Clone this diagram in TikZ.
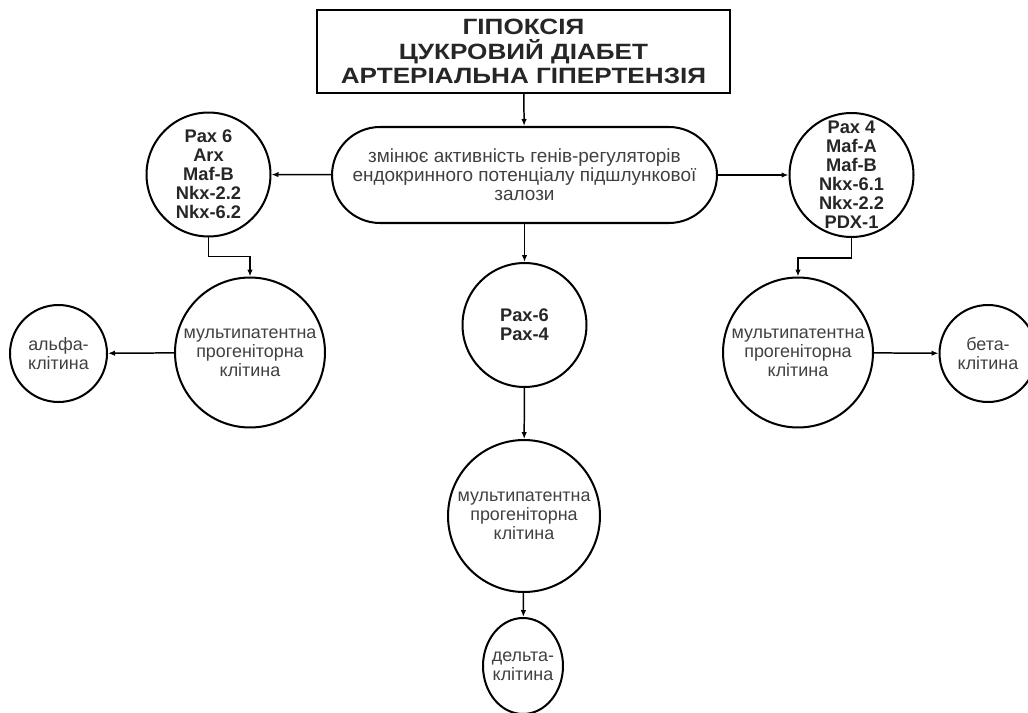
\documentclass[tikz,border=0pt]{standalone}
\usepackage{fontspec}
\setmainfont{Liberation Sans}
\newfontfamily\headfont{Liberation Sans}[FakeStretch=1.18]
\usetikzlibrary{arrows.meta,shapes.geometric}

\begin{document}
\begin{tikzpicture}[x=0.02cm,y=-0.02cm,>={Latex[length=1.4mm,width=1.1mm]},
  line width=0.85pt,
  txt/.style={font=\fontsize{10.2}{10.9}\selectfont,text=black!75,align=center},
  gene/.style={circle,draw,line width=1.15pt,inner sep=-8pt,minimum size=2.48cm,
    font=\fontsize{10.4}{10.8}\selectfont\bfseries,text=black!85,align=center},
  prog/.style={circle,draw,line width=1.15pt,inner sep=0pt,minimum size=3.0cm,txt},
  cell/.style={circle,draw,line width=1.15pt,inner sep=0pt,minimum size=1.94cm,txt}]
\useasboundingbox (0,0) rectangle (1028,713);
\node[draw,line width=1.15pt,minimum width=8.26cm,minimum height=1.66cm,align=center,
  font=\headfont\fontsize{12.6}{14.1}\selectfont\bfseries,text=black!85] (causes) at (523.5,51.5)
  {ГІПОКСІЯ\\ЦУКРОВИЙ ДІАБЕТ\\АРТЕРІАЛЬНА ГІПЕРТЕНЗІЯ};
\node[draw,line width=1.15pt,rounded corners=0.96cm,minimum width=7.7cm,minimum height=1.92cm,txt,
  font=\fontsize{10.8}{10.9}\selectfont] (effect) at (524.5,175)
  {змінює активність генів-регуляторів\\ендокринного потенціалу підшлункової\\залози};
\node[gene] (geneA) at (208.5,174.5) {Pax 6\\Arx\\Maf-B\\Nkx-2.2\\Nkx-6.2};
\node[gene] (geneB) at (851.5,175) {Pax 4\\Maf-A\\Maf-B\\Nkx-6.1\\Nkx-2.2\\PDX-1};
\node[gene] (geneD) at (524.5,325) {Pax-6\\Pax-4};
\node[prog] (progA) at (250,352.5) {мультипатентна\\прогеніторна\\клітина};
\node[prog] (progB) at (798,352.5) {мультипатентна\\прогеніторна\\клітина};
\node[prog,minimum size=3.04cm] (progD) at (524,516) {мультипатентна\\прогеніторна\\клітина};
\node[cell] (alpha) at (58.5,353.5) {альфа-\\клітина};
\node[cell] (beta) at (988,353.5) {бета-\\клітина};
\node[ellipse,draw,line width=1.15pt,inner xsep=-3pt,inner ysep=0pt,minimum width=1.6cm,
  minimum height=1.92cm,txt] (delta) at (523,666) {дельта-\\клітина};
\draw[->] (causes) -- (effect);
\draw[->] (effect) -- (geneA);
\draw[->] (effect) -- (geneB);
\draw[->] (effect) -- (geneD);
\draw[->] (geneA.south) -- ++(0,19) -| (progA.north);
\draw[->] (geneB.south) -- ++(0,20) -| (progB.north);
\draw[->] (geneD) -- (progD);
\draw[->] (progD) -- (delta);
\draw[->] (progA) -- (alpha);
\draw[->] (progB) -- (beta);
\end{tikzpicture}
\end{document}
